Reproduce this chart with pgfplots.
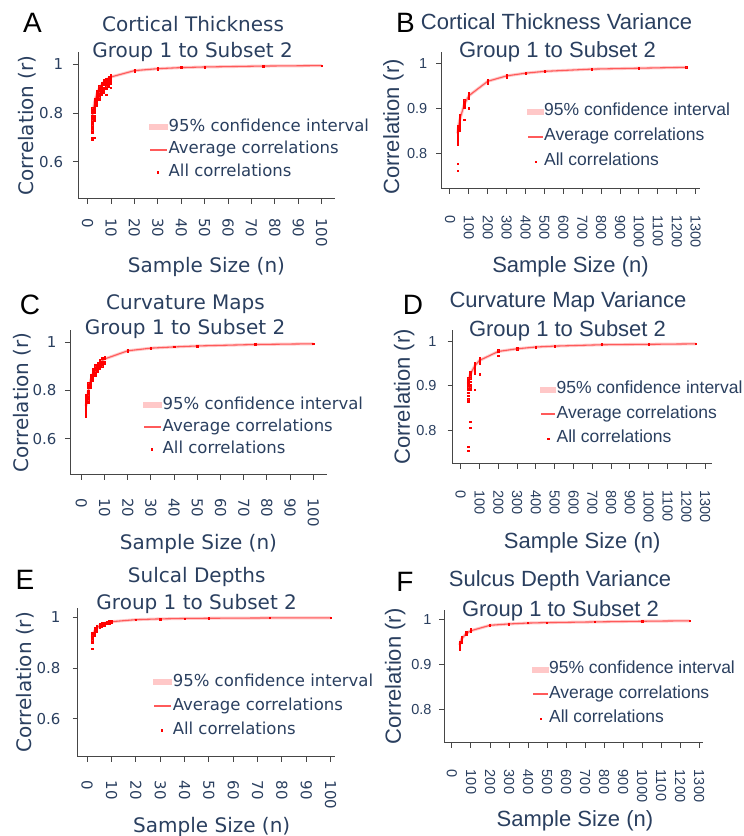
\documentclass[border=0pt]{standalone}
\usepackage{fontspec}
\setmainfont{DejaVu Sans}
\newfontfamily\lib{Liberation Sans}
\usepackage{graphicx}
\usepackage{pgfplots}
\usepackage{pgfplotstable}
\pgfplotsset{compat=1.18}
\definecolor{txt}{RGB}{42,63,95}
\definecolor{axc}{RGB}{70,70,70}
\definecolor{avgc}{RGB}{255,90,90}
\definecolor{cic}{RGB}{255,200,200}
\definecolor{dotc}{RGB}{255,0,0}

\pgfplotstableread{
n r
2 0.785
3 0.846
4 0.880
5 0.901
6 0.916
7 0.927
8 0.936
9 0.943
10 0.948
20 0.974
30 0.982
40 0.9865
50 0.989
75 0.9928
100 0.9946
}\avgA
\pgfplotstableread{
n r
40 0.844
50 0.872
75 0.908
100 0.928
200 0.960
300 0.972
400 0.978
500 0.982
750 0.987
1000 0.989
1250 0.991
}\avgB
\pgfplotstableread{
n r
2 0.735
3 0.799
4 0.842
5 0.869
6 0.889
7 0.903
8 0.914
9 0.923
10 0.930
20 0.964
30 0.975
40 0.980
50 0.984
75 0.990
100 0.993
}\avgC
\pgfplotstableread{
n r
40 0.905
50 0.925
75 0.945
100 0.957
200 0.977
300 0.983
400 0.987
500 0.989
750 0.992
1000 0.993
1250 0.994
}\avgD
\pgfplotstableread{
n r
2 0.920
3 0.946
4 0.958
5 0.967
6 0.972
7 0.976
8 0.979
9 0.981
10 0.983
20 0.991
30 0.994
40 0.9957
50 0.9965
75 0.9977
100 0.9983
}\avgE
\pgfplotstableread{
n r
40 0.944
50 0.957
75 0.970
100 0.976
200 0.988
300 0.991
400 0.993
500 0.994
750 0.9955
1000 0.997
1250 0.998
}\avgF

\pgfplotsset{
 leglen/.initial=16pt,
 panel/.style={
  scale only axis, axis lines*=left, tick align=outside, major tick length=5pt,
  axis line style={axc, line width=1pt}, tick style={axc, line width=1pt},
  tick label style={text=txt}, label style={text=txt},
  /pgf/number format/assume math mode=true,
  xticklabel={\rotatebox{-90}{\pgfmathprintnumber{\tick}}},
  xticklabel style={anchor=north, inner sep=0pt, /pgf/number format/1000 sep={}},
  yticklabel style={anchor=east, inner sep=0pt, /pgf/number format/fixed},
  legend cell align=left,
  xlabel={Sample Size (n)}, ylabel={Correlation (r)},
 },
 gaps/.style 2 args={xticklabel style={yshift=-#1}, yticklabel style={xshift=-#2}},
 aceF/.style={tick label style={font=\fontsize{15}{15}\selectfont},
   label style={font=\fontsize{20}{24}\selectfont},
   legend style={font=\fontsize{16.5}{18}\selectfont}, leglen=16pt},
 bdfF/.style={tick label style={font=\lib\fontsize{14.5}{15}\selectfont},
   label style={font=\lib\fontsize{22}{24}\selectfont},
   legend style={font=\lib\fontsize{17.5}{19}\selectfont}, leglen=13.5pt},
 leg/.style n args={3}{legend style={draw=none, fill=none, inner sep=0pt,
   at={(#1,#2)}, anchor=north west, row sep=#3, text=txt,
   nodes={inner xsep=0.5pt, inner ysep=0pt, text height=12pt, text depth=4pt}}},
 ci/.style={color=cic, line width=3pt,
   legend image code/.code={\fill[cic] (0pt,-1.4pt) rectangle (\pgfkeysvalueof{/pgfplots/leglen},1.4pt);}},
 avg/.style={color=avgc, line width=1.1pt,
   legend image code/.code={\fill[avgc] (0pt,-0.6pt) rectangle (\pgfkeysvalueof{/pgfplots/leglen},0.6pt);}},
 dots/.style={color=dotc, only marks, mark=square*, mark size=0.65pt,
   mark options={draw=none, fill=dotc, fill opacity=0.8},
   legend image code/.code={\draw[##1] plot coordinates {(7pt,0pt)};}},
}
\newcommand{\ttl}[3]{\node[text=txt, anchor=base, font=#3] at (#1) {#2};}

\begin{document}
\begin{tikzpicture}
\useasboundingbox (0,0) rectangle (744pt,836pt);

% ---------------- A
\begin{axis}[panel, aceF, at={(78pt,637pt)}, anchor=south west, width=257pt, height=147pt,
  xmin=-4.1, xmax=105.7, ymin=0.447, ymax=1.0505, xtick={0,10,...,100}, ytick={0.6,0.8,1},
  gaps={14pt}{9.7pt},
  xlabel style={at={(axis description cs:0.5,-0.503)}, anchor=base},
  ylabel style={at={(axis description cs:-0.175,0.5)}, anchor=base},
  leg={0.276}{0.544}{6.5pt}]
\addplot[ci] table {\avgA};
\addplot[avg] table {\avgA};
\addplot[dots] coordinates {(2,0.82)(2,0.81)(2,0.80)(2,0.79)(2,0.78)(2,0.77)(2,0.76)(2,0.75)(2,0.74)(2,0.73)(2,0.72)(2,0.70)(2,0.69)
(3,0.86)(3,0.85)(3,0.84)(3,0.83)(3,0.82)(3,0.81)(3,0.80)(3,0.79)(3,0.78)(3,0.77)(3,0.70)
(4,0.89)(4,0.885)(4,0.875)(4,0.865)(4,0.86)(4,0.85)(4,0.84)(4,0.83)
(5,0.91)(5,0.90)(5,0.895)(5,0.885)(5,0.875)(5,0.865)(5,0.855)
(6,0.925)(6,0.92)(6,0.91)(6,0.905)(6,0.895)(6,0.885)(6,0.875)
(7,0.935)(7,0.93)(7,0.92)(7,0.915)(7,0.905)(7,0.895)(7,0.885)
(8,0.94)(8,0.935)(8,0.93)(8,0.92)(8,0.91)(8,0.90)(8,0.875)
(9,0.947)(9,0.94)(9,0.935)(9,0.93)(9,0.92)(9,0.91)
(10,0.955)(10,0.95)(10,0.945)(10,0.94)(10,0.93)(10,0.92)(10,0.905)
(20,0.977)(20,0.974)(20,0.971)(30,0.984)(30,0.982)(30,0.979)(40,0.988)(40,0.986)(50,0.990)(50,0.988)(75,0.993)(75,0.992)(100,0.995)(100,0.994)};
\legend{95\% confidence interval, Average correlations, All correlations}
\end{axis}

% ---------------- B
\begin{axis}[panel, bdfF, at={(441pt,647pt)}, anchor=south west, width=259pt, height=137pt,
  xmin=-47.6, xmax=1323, ymin=0.7207, ymax=1.025, xtick={0,100,...,1300}, ytick={0.8,0.9,1},
  gaps={21pt}{8.5pt},
  xlabel style={at={(axis description cs:0.5,-0.606)}, anchor=base},
  ylabel style={at={(axis description cs:-0.162,0.453)}, anchor=base},
  leg={0.332}{0.624}{9pt}]
\addplot[ci] table {\avgB};
\addplot[avg] table {\avgB};
\addplot[dots] coordinates {(40,0.86)(40,0.855)(40,0.85)(40,0.845)(40,0.84)(40,0.835)(40,0.83)(40,0.825)(40,0.82)(40,0.777)(40,0.762)
(50,0.885)(50,0.88)(50,0.875)(50,0.87)(50,0.865)(50,0.86)(50,0.855)(50,0.85)
(75,0.918)(75,0.914)(75,0.91)(75,0.906)(75,0.902)(75,0.875)
(100,0.935)(100,0.932)(100,0.929)(100,0.926)(100,0.922)(100,0.90)
(200,0.963)(200,0.961)(200,0.958)(200,0.955)(300,0.974)(300,0.972)(300,0.969)
(400,0.979)(400,0.977)(500,0.983)(500,0.981)(750,0.988)(750,0.987)(1000,0.990)(1000,0.989)(1250,0.991)};
\legend{95\% confidence interval, Average correlations, All correlations}
\end{axis}

% ---------------- C
\begin{axis}[panel, aceF, at={(70pt,361pt)}, anchor=south west, width=257pt, height=145pt,
  xmin=-4.9, xmax=105.9, ymin=0.45, ymax=1.05, xtick={0,10,...,100}, ytick={0.6,0.8,1},
  gaps={18pt}{8.3pt},
  xlabel style={at={(axis description cs:0.5,-0.517)}, anchor=base},
  ylabel style={at={(axis description cs:-0.163,0.5)}, anchor=base},
  leg={0.284}{0.538}{6pt}]
\addplot[ci] table {\avgC};
\addplot[avg] table {\avgC};
\addplot[dots] coordinates {(2,0.78)(2,0.77)(2,0.76)(2,0.75)(2,0.74)(2,0.73)(2,0.72)(2,0.71)(2,0.70)(2,0.69)
(3,0.83)(3,0.82)(3,0.81)(3,0.80)(3,0.79)(3,0.78)(3,0.77)(3,0.76)(3,0.75)
(4,0.865)(4,0.855)(4,0.85)(4,0.84)(4,0.83)(4,0.82)(4,0.81)
(5,0.89)(5,0.88)(5,0.87)(5,0.86)(5,0.85)(5,0.84)
(6,0.905)(6,0.90)(6,0.89)(6,0.88)(6,0.87)(6,0.86)
(7,0.915)(7,0.91)(7,0.90)(7,0.89)(7,0.88)
(8,0.925)(8,0.92)(8,0.91)(8,0.90)(8,0.89)
(9,0.935)(9,0.93)(9,0.92)(9,0.91)(9,0.90)
(10,0.94)(10,0.935)(10,0.93)(10,0.92)(10,0.91)
(20,0.967)(20,0.964)(20,0.961)(30,0.977)(30,0.975)(40,0.982)(40,0.980)(50,0.985)(50,0.983)(75,0.991)(75,0.990)(100,0.993)};
\legend{95\% confidence interval, Average correlations, All correlations}
\end{axis}

% ---------------- D
\begin{axis}[panel, bdfF, at={(452.7pt,372pt)}, anchor=south west, width=259pt, height=134pt,
  xmin=-42.5, xmax=1335, ymin=0.7255, ymax=1.025, xtick={0,100,...,1300}, ytick={0.8,0.9,1},
  gaps={21pt}{11pt},
  xlabel style={at={(axis description cs:0.5,-0.627)}, anchor=base},
  ylabel style={at={(axis description cs:-0.165,0.5)}, anchor=base},
  leg={0.335}{0.616}{8.5pt}]
\addplot[ci] table {\avgD};
\addplot[avg] table {\avgD};
\addplot[dots] coordinates {(40,0.917)(40,0.912)(40,0.907)(40,0.902)(40,0.897)(40,0.892)(40,0.885)(40,0.878)(40,0.87)(40,0.865)(40,0.764)(40,0.755)
(50,0.932)(50,0.927)(50,0.922)(50,0.917)(50,0.91)(50,0.903)(50,0.897)(50,0.891)(50,0.82)(50,0.807)
(75,0.951)(75,0.947)(75,0.943)(75,0.938)(75,0.933)(75,0.928)(75,0.891)
(100,0.962)(100,0.958)(100,0.955)(100,0.951)(100,0.926)
(200,0.98)(200,0.977)(200,0.968)(300,0.985)(300,0.982)(400,0.988)(400,0.986)(500,0.990)(500,0.989)
(750,0.993)(750,0.992)(1000,0.994)(1000,0.993)(1250,0.994)};
\legend{95\% confidence interval, Average correlations, All correlations}
\end{axis}

% ---------------- E
\begin{axis}[panel, aceF, at={(77.7pt,79.3pt)}, anchor=south west, width=257.3pt, height=148.7pt,
  xmin=-3.9, xmax=101.8, ymin=0.45, ymax=1.037, xtick={0,10,...,100}, ytick={0.6,0.8,1},
  gaps={19pt}{12pt},
  xlabel style={at={(axis description cs:0.521,-0.513)}, anchor=base},
  ylabel style={at={(axis description cs:-0.178,0.5)}, anchor=base},
  leg={0.293}{0.556}{8pt}]
\addplot[ci] table {\avgE};
\addplot[avg] table {\avgE};
\addplot[dots] coordinates {(2,0.94)(2,0.935)(2,0.93)(2,0.925)(2,0.92)(2,0.915)(2,0.91)(2,0.90)(2,0.875)
(3,0.96)(3,0.955)(3,0.95)(3,0.945)(3,0.94)(3,0.935)(3,0.93)
(4,0.968)(4,0.964)(4,0.96)(4,0.955)(4,0.95)(4,0.945)
(5,0.974)(5,0.97)(5,0.966)(5,0.962)(5,0.958)
(6,0.978)(6,0.975)(6,0.971)(6,0.967)(6,0.963)
(7,0.98)(7,0.978)(7,0.975)(7,0.971)(7,0.968)
(8,0.983)(8,0.98)(8,0.977)(8,0.974)
(9,0.985)(9,0.982)(9,0.979)(9,0.976)
(10,0.986)(10,0.984)(10,0.981)(10,0.978)
(20,0.992)(20,0.990)(30,0.995)(30,0.993)(40,0.996)(50,0.997)(75,0.998)(100,0.9985)};
\legend{95\% confidence interval, Average correlations, All correlations}
\end{axis}

% ---------------- F
\begin{axis}[panel, bdfF, at={(444pt,93.3pt)}, anchor=south west, width=259.3pt, height=132.7pt,
  xmin=-42, xmax=1322, ymin=0.727, ymax=1.022, xtick={0,100,...,1300}, ytick={0.8,0.9,1},
  gaps={22pt}{7.3pt},
  xlabel style={at={(axis description cs:0.505,-0.628)}, anchor=base},
  ylabel style={at={(axis description cs:-0.166,0.5)}, anchor=base},
  leg={0.339}{0.612}{8.5pt}]
\addplot[ci] table {\avgF};
\addplot[avg] table {\avgF};
\addplot[dots] coordinates {(40,0.952)(40,0.948)(40,0.944)(40,0.94)(40,0.936)(40,0.933)
(50,0.962)(50,0.958)(50,0.954)(50,0.95)(75,0.973)(75,0.97)(75,0.967)(100,0.979)(100,0.976)(100,0.973)
(200,0.989)(200,0.987)(300,0.992)(300,0.990)(400,0.993)(500,0.994)(750,0.996)(1000,0.997)(1250,0.998)};
\legend{95\% confidence interval, Average correlations, All correlations}
\end{axis}

% titles
\ttl{193pt,804pt}{Cortical Thickness}{\fontsize{20}{24}\selectfont}
\ttl{192.5pt,778pt}{Group 1 to Subset 2}{\fontsize{20}{24}\selectfont}
\ttl{556.5pt,806pt}{Cortical Thickness Variance}{\lib\fontsize{22}{24}\selectfont}
\ttl{557.5pt,778pt}{Group 1 to Subset 2}{\lib\fontsize{22}{24}\selectfont}
\ttl{185.5pt,526pt}{Curvature Maps}{\fontsize{20}{24}\selectfont}
\ttl{185pt,501pt}{Group 1 to Subset 2}{\fontsize{20}{24}\selectfont}
\ttl{568pt,528pt}{Curvature Map Variance}{\lib\fontsize{22}{24}\selectfont}
\ttl{567.5pt,499pt}{Group 1 to Subset 2}{\lib\fontsize{22}{24}\selectfont}
\ttl{196.7pt,253pt}{Sulcal Depths}{\fontsize{20}{24}\selectfont}
\ttl{196.7pt,226pt}{Group 1 to Subset 2}{\fontsize{20}{24}\selectfont}
\ttl{560pt,249pt}{Sulcus Depth Variance}{\lib\fontsize{22}{24}\selectfont}
\ttl{560.5pt,219pt}{Group 1 to Subset 2}{\lib\fontsize{22}{24}\selectfont}

% panel letters
\foreach \l/\x/\y in {A/32.5/803, B/405.5/803, C/30/521, D/413/521, E/25/246, F/405/244}
  \node[anchor=base, font=\lib\fontsize{28}{30}\selectfont, inner sep=0pt] at (\x pt,\y pt) {\l};
\end{tikzpicture}
\end{document}
